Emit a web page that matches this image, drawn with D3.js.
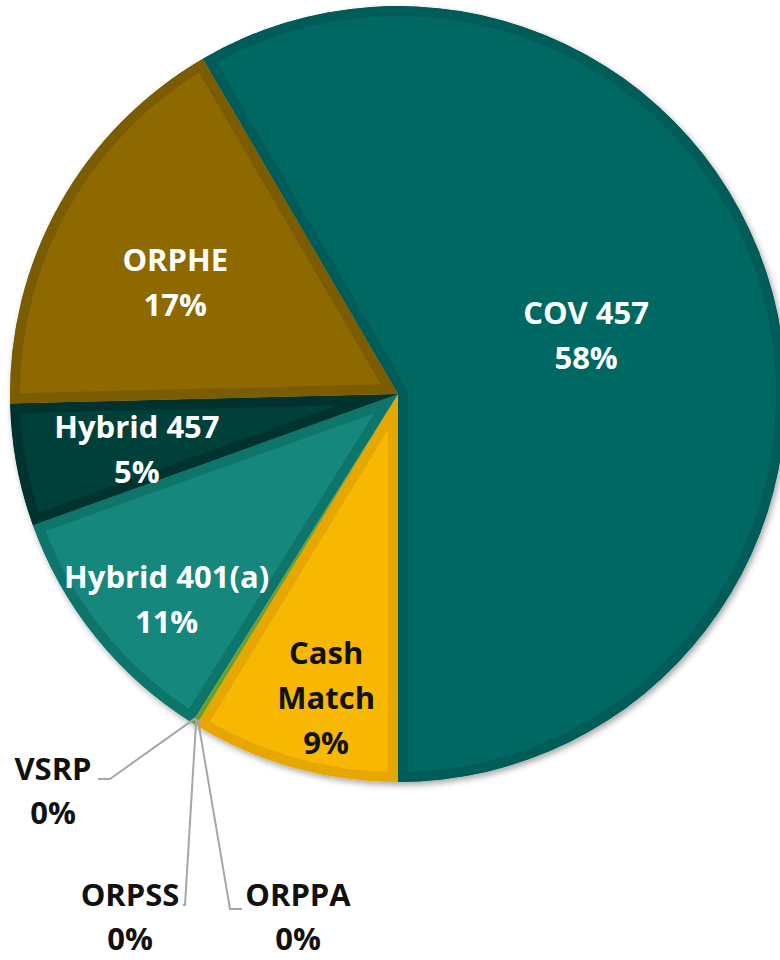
<!DOCTYPE html>
<html>
<head>
<meta charset="utf-8">
<script src="https://cdn.jsdelivr.net/npm/d3@7"></script>
<style>
  html, body { margin: 0; padding: 0; background: #fff; }
  svg text { font-family: "Open Sans", "Noto Sans", sans-serif; font-weight: bold; }
</style>
</head>
<body>
<div id="chart"></div>
<script>
// data, in Excel series order
const names = ["COV 457", "Cash Match", "ORPPA", "ORPSS", "VSRP", "Hybrid 401(a)", "Hybrid 457", "ORPHE"];
const labelLines = [["COV 457"], ["Cash", "Match"], ["ORPPA"], ["ORPSS"], ["VSRP"], ["Hybrid 401(a)"], ["Hybrid 457"], ["ORPHE"]];
const shares = [58.4, 8.7, 0.12, 0.04, 0.04, 10.6, 5.1, 17.0];
const pctLabels = ["58%", "9%", "0%", "0%", "0%", "11%", "5%", "17%"];

const fills   = ["#006864", "#f8b700", "#7ab32e", "#6fa52a", "#86bd3a", "#17877c", "#003f3b", "#8d6900"];
const borders = ["#005b58", "#e6a800", "#6a9e26", "#5f9024", "#76aa30", "#117569", "#00332f", "#7c5c00"];
const textColors = ["#fff", "#111", "#111", "#111", "#111", "#fff", "#fff", "#fff"];

const W = 780, H = 960;
const cx = 398, cy = 394, R = 388;
const startDeg = -30.2;

const svg = d3.select("#chart").append("svg")
    .attr("width", W).attr("height", H);

const defs = svg.append("defs");
const shadow = defs.append("filter").attr("id", "shadow")
    .attr("x", "-10%").attr("y", "-10%").attr("width", "120%").attr("height", "120%");
shadow.append("feDropShadow")
    .attr("dx", 2).attr("dy", 3).attr("stdDeviation", 3)
    .attr("flood-color", "#000").attr("flood-opacity", 0.35);

const pie = d3.pie().sort(null)
    .startAngle(startDeg * Math.PI / 180)
    .endAngle((startDeg + 360) * Math.PI / 180);

const arcs = pie(shares);
const arc = d3.arc().innerRadius(0).outerRadius(R);

const g = svg.append("g")
    .attr("transform", `translate(${cx},${cy})`)
    .attr("filter", "url(#shadow)");

arcs.forEach((d, i) => {
    defs.append("clipPath").attr("id", "clip" + i)
        .append("path").attr("d", arc(d));
});

// bevel look: darker stroke clipped to the inside of each slice
g.selectAll("path.slice")
    .data(arcs)
    .enter().append("path")
    .attr("class", "slice")
    .attr("d", arc)
    .attr("fill", (d, i) => fills[i])
    .attr("stroke", (d, i) => borders[i])
    .attr("stroke-width", 20)
    .attr("stroke-linejoin", "miter")
    .attr("clip-path", (d, i) => `url(#clip${i})`);

// inside labels: radius as share of R, small angle nudge in degrees
const labelRadius = [0.508, 0.805, 0, 0, 0, 0.798, 0.688, 0.642];
const labelNudge  = [-2.3, -2.4, 0, 0, 0, -2.8, -1.4, -2.6];
const labels = svg.append("g").attr("transform", `translate(${cx},${cy})`);
const fontSize = 31, lineH = 45;

arcs.forEach((d, i) => {
    if (labelRadius[i] === 0) return;
    const a = (d.startAngle + d.endAngle) / 2 + labelNudge[i] * Math.PI / 180;
    const x = Math.sin(a) * R * labelRadius[i];
    const y = -Math.cos(a) * R * labelRadius[i];
    const lines = labelLines[i].concat([pctLabels[i]]);
    const t = labels.append("text")
        .attr("text-anchor", "middle")
        .attr("font-size", fontSize)
        .attr("fill", textColors[i]);
    lines.forEach((s, k) => {
        t.append("tspan")
            .attr("x", x)
            .attr("y", y + (k - (lines.length - 1) / 2) * lineH + fontSize * 0.357)
            .text(s);
    });
});

// outside labels with leader lines (elbow, line end and label centre, relative to pie centre)
const outside = {
    2: { elbow: [-168, 515], end: [-156, 515], tx: -100, ty: 501 },
    3: { elbow: [-213, 511], end: [-215, 511], tx: -268, ty: 501 },
    4: { elbow: [-288, 385], end: [-300, 385], tx: -345, ty: 375 }
};
const leaders = svg.append("g").attr("transform", `translate(${cx},${cy})`);
arcs.forEach((d, i) => {
    const o = outside[i];
    if (!o) return;
    const a = (d.startAngle + d.endAngle) / 2;
    const p0 = [Math.sin(a) * R * 0.985, -Math.cos(a) * R * 0.985];
    leaders.append("polyline")
        .attr("points", [p0, o.elbow, o.end].map(p => p.join(",")).join(" "))
        .attr("fill", "none")
        .attr("stroke", "#a6a6a6")
        .attr("stroke-width", 2);
    const t = leaders.append("text")
        .attr("text-anchor", "middle")
        .attr("font-size", fontSize)
        .attr("fill", textColors[i]);
    [names[i], pctLabels[i]].forEach((s, k) => {
        t.append("tspan")
            .attr("x", o.tx)
            .attr("y", o.ty + k * 44 + fontSize * 0.357)
            .text(s);
    });
});
</script>
</body>
</html>
